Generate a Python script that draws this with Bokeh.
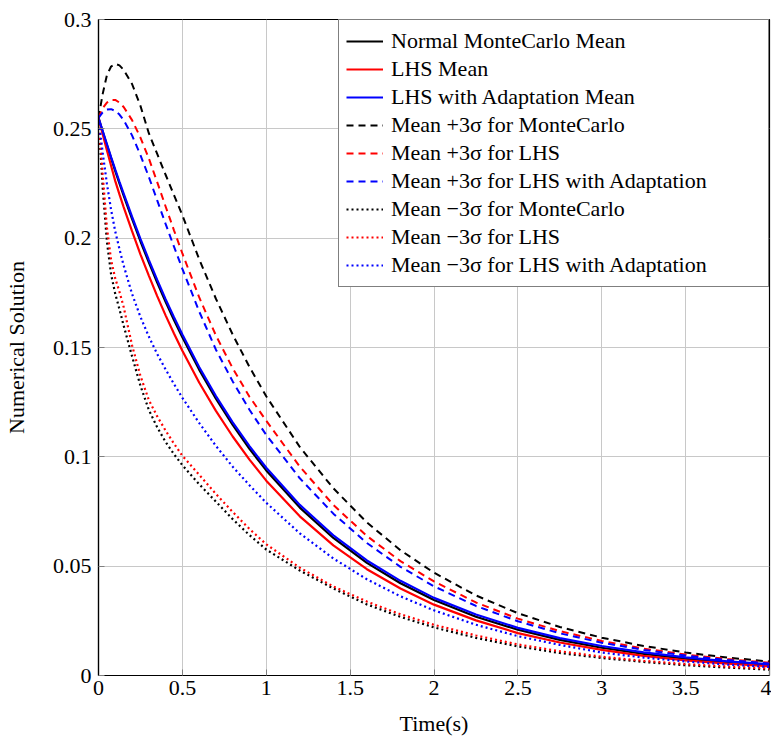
from bokeh.plotting import figure
from bokeh.models import Range1d, FixedTicker
from bokeh.embed import file_html
from bokeh.resources import INLINE

# ---------------- data ----------------
time_s = [0, 0.025, 0.05, 0.075, 0.1, 0.125, 0.15, 0.2, 0.25, 0.3, 0.35, 0.4, 0.45, 0.5, 0.6, 0.7,
          0.8, 0.9, 1.0, 1.2, 1.4, 1.6, 1.8, 2.0, 2.25, 2.5, 2.75, 3.0, 3.25, 3.5, 3.75, 4.0]

mc_mean = [0.255, 0.2487, 0.2426, 0.2366, 0.2307, 0.2250, 0.2195, 0.2088, 0.1986, 0.1889,
           0.1797, 0.1709, 0.1626, 0.1547, 0.1399, 0.1266, 0.1146, 0.1037, 0.0938, 0.0768,
           0.0629, 0.0515, 0.0422, 0.0345, 0.0269, 0.0209, 0.0163, 0.0127, 0.0099, 0.0077,
           0.0060, 0.0047]

lhs_mean = [0.255, 0.2475, 0.2402, 0.2331, 0.2261, 0.2200, 0.2142, 0.2032, 0.1926, 0.1829,
            0.1735, 0.1647, 0.1564, 0.1485, 0.1340, 0.1210, 0.1093, 0.0987, 0.0891, 0.0728,
            0.0595, 0.0486, 0.0398, 0.0324, 0.0252, 0.0194, 0.0151, 0.0117, 0.0090, 0.0069,
            0.0054, 0.0042]

lhs_adapt_mean = [0.255, 0.2490, 0.2430, 0.2371, 0.2314, 0.2258, 0.2204, 0.2098, 0.1997, 0.1901,
                  0.1809, 0.1721, 0.1638, 0.1559, 0.1411, 0.1278, 0.1158, 0.1049, 0.0950, 0.0780,
                  0.0641, 0.0526, 0.0433, 0.0355, 0.0279, 0.0218, 0.0171, 0.0135, 0.0106, 0.0083,
                  0.0065, 0.0051]

mc_plus3 = [0.255, 0.2660, 0.2745, 0.2785, 0.2797, 0.2790, 0.2770, 0.2705, 0.2605, 0.2480,
            0.2385, 0.2290, 0.2197, 0.2105, 0.1904, 0.1723, 0.1559, 0.1411, 0.1277, 0.1045,
            0.0856, 0.0700, 0.0573, 0.0470, 0.0366, 0.0285, 0.0222, 0.0173, 0.0135, 0.0105,
            0.0082, 0.0064]

lhs_plus3 = [0.255, 0.2595, 0.2620, 0.2632, 0.2632, 0.2620, 0.2600, 0.2540, 0.2460, 0.2365,
             0.2256, 0.2145, 0.2036, 0.1930, 0.1730, 0.1555, 0.1405, 0.1275, 0.1165, 0.0955,
             0.0780, 0.0638, 0.0523, 0.0430, 0.0334, 0.0260, 0.0203, 0.0158, 0.0123, 0.0096,
             0.0075, 0.0058]

lhs_adapt_plus3 = [0.255, 0.2575, 0.2588, 0.2590, 0.2582, 0.2565, 0.2540, 0.2470, 0.2380, 0.2280,
                   0.2173, 0.2065, 0.1961, 0.1860, 0.1665, 0.1490, 0.1345, 0.1215, 0.1100, 0.0902,
                   0.0740, 0.0606, 0.0497, 0.0408, 0.0318, 0.0248, 0.0193, 0.0150, 0.0117, 0.0091,
                   0.0071, 0.0055]

mc_minus3 = [0.255, 0.2230, 0.1985, 0.1835, 0.1745, 0.1675, 0.1600, 0.1460, 0.1325, 0.1215,
             0.1135, 0.1068, 0.1012, 0.0962, 0.0875, 0.0795, 0.0715, 0.0642, 0.0576, 0.0480,
             0.0398, 0.0325, 0.0268, 0.0220, 0.0172, 0.0133, 0.0103, 0.0080, 0.0062, 0.0047,
             0.0036, 0.0027]

lhs_minus3 = [0.255, 0.2290, 0.2050, 0.1900, 0.1815, 0.1755, 0.1685, 0.1510, 0.1370, 0.1260,
              0.1185, 0.1120, 0.1060, 0.1005, 0.0918, 0.0830, 0.0748, 0.0670, 0.0600, 0.0493,
              0.0407, 0.0338, 0.0280, 0.0232, 0.0183, 0.0142, 0.0111, 0.0086, 0.0067, 0.0052,
              0.0041, 0.0032]

lhs_adapt_minus3 = [0.255, 0.2390, 0.2250, 0.2130, 0.2030, 0.1950, 0.1875, 0.1745, 0.1640, 0.1550,
                    0.1470, 0.1400, 0.1333, 0.1270, 0.1155, 0.1050, 0.0955, 0.0870, 0.0790, 0.0650,
                    0.0535, 0.0440, 0.0362, 0.0298, 0.0232, 0.0180, 0.0140, 0.0105, 0.0082, 0.0064,
                    0.0050, 0.0039]

series_labels = [
    "Normal MonteCarlo Mean",
    "LHS Mean",
    "LHS with Adaptation Mean",
    "Mean +3σ for MonteCarlo",
    "Mean +3σ for LHS",
    "Mean +3σ for LHS with Adaptation",
    "Mean −3σ for MonteCarlo",
    "Mean −3σ for LHS",
    "Mean −3σ for LHS with Adaptation",
]

x_ticks = [0, 0.5, 1, 1.5, 2, 2.5, 3, 3.5, 4]
x_tick_labels = ["0", "0.5", "1", "1.5", "2", "2.5", "3", "3.5", "4"]
y_ticks = [0, 0.05, 0.1, 0.15, 0.2, 0.25, 0.3]
y_tick_labels = ["0", "0.05", "0.1", "0.15", "0.2", "0.25", "0.3"]

x_title = "Time(s)"
y_title = "Numerical Solution"

# ---------------- figure ----------------
FONT = "Liberation Serif"
FS = "22px"

p = figure(width=771, height=739, output_backend="svg", toolbar_location=None,
           x_range=Range1d(0, 4), y_range=Range1d(0, 0.3),
           min_border_left=97, min_border_right=2, min_border_top=19, min_border_bottom=64)

p.background_fill_color = "white"
p.border_fill_color = "white"
p.outline_line_color = "black"
p.outline_line_width = 1.2

series = [mc_mean, lhs_mean, lhs_adapt_mean,
          mc_plus3, lhs_plus3, lhs_adapt_plus3,
          mc_minus3, lhs_minus3, lhs_adapt_minus3]
colors = ["black", "#ff0000", "#0000ff"] * 3
dashes = ["solid"] * 3 + ["7 5"] * 3 + ["2 3"] * 3
widths = [2.2] * 3 + [2.0] * 3 + [2.2] * 3

for ys, lab, c, d, w in zip(series, series_labels, colors, dashes, widths):
    p.line(time_s, ys, line_color=c, line_dash=d, line_width=w, legend_label=lab)

# axes
p.xaxis.ticker = FixedTicker(ticks=x_ticks)
p.yaxis.ticker = FixedTicker(ticks=y_ticks)
p.xaxis.major_label_overrides = {t: l for t, l in zip(x_ticks, x_tick_labels)}
p.yaxis.major_label_overrides = {t: l for t, l in zip(y_ticks, y_tick_labels)}
p.xaxis.axis_label = x_title
p.yaxis.axis_label = y_title

for ax in (p.xaxis[0], p.yaxis[0]):
    ax.axis_line_color = "black"
    ax.axis_line_width = 1.2
    ax.major_tick_in = 6
    ax.major_tick_out = 0
    ax.major_tick_line_color = "#7f7f7f"
    ax.minor_tick_line_color = None
    ax.major_label_text_font = FONT
    ax.major_label_text_font_size = FS
    ax.major_label_text_color = "black"
    ax.axis_label_text_font = FONT
    ax.axis_label_text_font_size = FS
    ax.axis_label_text_font_style = "normal"
    ax.axis_label_text_color = "black"

p.xaxis.major_label_standoff = 5
p.xaxis.axis_label_standoff = 13
p.yaxis.major_label_standoff = 7
p.yaxis.axis_label_standoff = 21

p.grid.grid_line_color = "#c8c8c8"
p.grid.grid_line_width = 1

# legend
lg = p.legend[0]
lg.location = "top_right"
lg.margin = 0
lg.padding = 7
lg.spacing = 0
lg.border_line_color = "black"
lg.border_line_width = 1.2
lg.background_fill_color = "white"
lg.background_fill_alpha = 1
lg.label_text_font = FONT
lg.label_text_font_size = FS
lg.label_text_color = "black"
lg.glyph_width = 37
lg.glyph_height = 28
lg.label_height = 28
lg.label_standoff = 8
lg.label_width = 370

open("out.html", "w").write(file_html(p, INLINE))
